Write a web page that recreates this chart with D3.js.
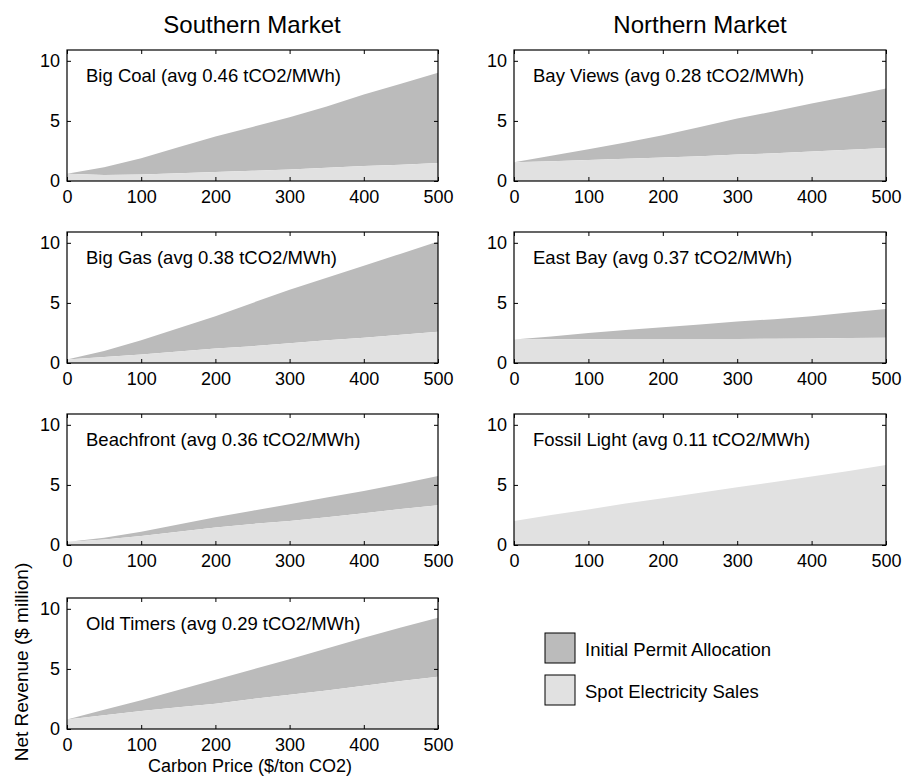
<!DOCTYPE html>
<html><head><meta charset="utf-8">
<script src="https://cdn.jsdelivr.net/npm/d3@7"></script>
<style>body{margin:0;background:#fff}svg{display:block;font-family:"Liberation Sans",Arial,sans-serif}</style>
</head><body><svg id="c" width="904" height="780"></svg>
<script>
const prices = [0,50,100,150,200,250,300,350,400,450,500];
const xTicks = [0,100,200,300,400,500];
const yTicks = [0,5,10];
const panelNames = ["Big Coal (avg 0.46 tCO2/MWh)","Big Gas (avg 0.38 tCO2/MWh)","Beachfront (avg 0.36 tCO2/MWh)","Old Timers (avg 0.29 tCO2/MWh)","Bay Views (avg 0.28 tCO2/MWh)","East Bay (avg 0.37 tCO2/MWh)","Fossil Light (avg 0.11 tCO2/MWh)"];
const panelMarket = ["Southern","Southern","Southern","Southern","Northern","Northern","Northern"];
// total net revenue (spot + permit allocation), $ million
const totalRevenue = [
  [0.6,1.15,1.9,2.8,3.7,4.5,5.3,6.2,7.2,8.1,9.0],
  [0.3,1.0,1.9,2.9,3.9,5.0,6.1,7.1,8.1,9.1,10.1],
  [0.25,0.6,1.1,1.7,2.3,2.85,3.4,3.95,4.5,5.1,5.75],
  [0.8,1.6,2.4,3.25,4.1,4.95,5.8,6.7,7.6,8.45,9.25],
  [1.55,2.1,2.65,3.2,3.8,4.5,5.2,5.8,6.45,7.05,7.7],
  [1.95,2.2,2.5,2.75,2.97,3.2,3.45,3.65,3.9,4.2,4.5],
  [2.0,2.5,2.95,3.45,3.9,4.35,4.8,5.25,5.7,6.15,6.65]
];
// spot electricity sales, $ million
const spotRevenue = [
  [0.6,0.5,0.55,0.65,0.75,0.85,0.95,1.1,1.25,1.35,1.5],
  [0.3,0.5,0.7,0.95,1.2,1.4,1.65,1.9,2.1,2.35,2.6],
  [0.25,0.45,0.75,1.1,1.45,1.75,2.0,2.3,2.65,3.0,3.3],
  [0.8,1.15,1.5,1.8,2.1,2.5,2.85,3.2,3.6,4.0,4.35],
  [1.55,1.65,1.75,1.85,1.95,2.05,2.2,2.3,2.45,2.6,2.75],
  [1.95,1.97,1.98,1.99,2.0,2.0,2.0,2.02,2.04,2.07,2.1],
  [2.0,2.5,2.95,3.45,3.9,4.35,4.8,5.25,5.7,6.15,6.65]
];
const marketTitles = ["Southern Market","Northern Market"];
const legendLabels = ["Initial Permit Allocation","Spot Electricity Sales"];
const colors = {permit:"#bbbbbb", spot:"#e1e1e1"};

const svg = d3.select("#c");
const colX = {Southern:[67,438], Northern:[514,886]};
const rowTops = [50,232,414,598];
const ph = 131;
const font = 18;

let rowCount = {Southern:0, Northern:0};
panelNames.forEach((name,i)=>{
  const m = panelMarket[i];
  const r = rowCount[m]++;
  const [x0,x1] = colX[m];
  const top = rowTops[r];
  const x = d3.scaleLinear().domain([0,500]).range([x0,x1]);
  const y = d3.scaleLinear().domain([0,10.9]).range([top+ph, top]);
  const g = svg.append("g");
  const data = prices.map((p,j)=>({p, tot: totalRevenue[i][j], spot: spotRevenue[i][j]}));
  g.append("path").datum(data).attr("fill",colors.permit)
    .attr("d", d3.area().x(d=>x(d.p)).y0(d=>y(d.spot)).y1(d=>y(d.tot)));
  g.append("path").datum(data).attr("fill",colors.spot)
    .attr("d", d3.area().x(d=>x(d.p)).y0(y(0)).y1(d=>y(d.spot)));
  const ax = g.append("g").attr("transform",`translate(0,${top+ph})`)
    .call(d3.axisBottom(x).tickValues(xTicks).tickSizeInner(-4).tickSizeOuter(0));
  const axT = g.append("g").attr("transform",`translate(0,${top})`)
    .call(d3.axisTop(x).tickValues(xTicks).tickSizeInner(-4).tickSizeOuter(0).tickFormat(""));
  const ay = g.append("g").attr("transform",`translate(${x0},0)`)
    .call(d3.axisLeft(y).tickValues(yTicks).tickSizeInner(-4).tickSizeOuter(0).tickPadding(7));
  const ayR = g.append("g").attr("transform",`translate(${x1},0)`)
    .call(d3.axisRight(y).tickValues(yTicks).tickSizeInner(-4).tickSizeOuter(0).tickFormat(""));
  [ax,axT,ay,ayR].forEach(a=>{
    a.select(".domain").remove();
    a.selectAll("line").attr("stroke","#000");
    a.selectAll("text").attr("font-size",font).attr("fill","#000").attr("font-family","Liberation Sans, Arial, sans-serif");
  });
  ax.selectAll("text").attr("y",22).attr("dy",null);
  g.append("rect").attr("x",x0).attr("y",top).attr("width",x1-x0).attr("height",ph)
    .attr("fill","none").attr("stroke","#000").attr("stroke-width",1.2);
  g.append("text").attr("x",x0+19).attr("y",top+32)
    .attr("font-size",18.5).text(name);
});

svg.selectAll(".mt").data(marketTitles).enter().append("text")
  .attr("x",(d,i)=>i===0?252:700).attr("y",33).attr("text-anchor","middle")
  .attr("font-size",24).text(d=>d);

svg.append("text").attr("transform","translate(28,662) rotate(-90)")
  .attr("text-anchor","middle").attr("font-size",19)
  .text("Net Revenue ($ million)");
svg.append("text").attr("x",250).attr("y",772).attr("text-anchor","middle")
  .attr("font-size",18).text("Carbon Price ($/ton CO2)");

const leg = svg.append("g");
legendLabels.forEach((l,i)=>{
  leg.append("rect").attr("x",545).attr("y",633+i*42).attr("width",30).attr("height",30)
    .attr("fill", i===0?colors.permit:colors.spot).attr("stroke","#000").attr("stroke-width",1);
  leg.append("text").attr("x",585).attr("y",656+i*42)
    .attr("font-size",18.5).text(l);
});
</script></body></html>
